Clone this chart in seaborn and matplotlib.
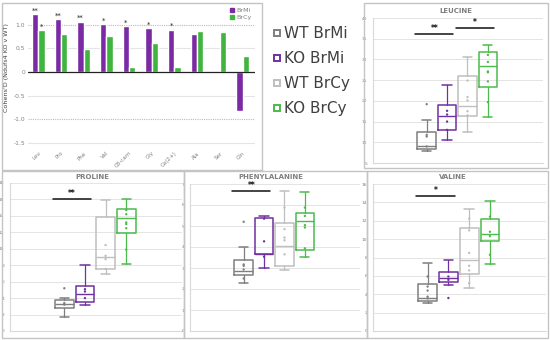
import numpy as np
import pandas as pd
import matplotlib
matplotlib.use("Agg")
import matplotlib.pyplot as plt
import seaborn as sns
from matplotlib.lines import Line2D
from matplotlib.patches import Rectangle

# ---------------- data ----------------
amino = ['Leu', 'Pro', 'Phe', 'Val', 'C8-carn', 'Gly', 'Ca(2+)', 'Ala', 'Ser', 'Gln']
cohen_brmi = [1.23, 1.12, 1.07, 1.02, 0.97, 0.93, 0.90, 0.80, 0.0, -0.83]
cohen_brcy = [0.89, 0.80, 0.49, 0.77, 0.11, 0.62, 0.10, 0.87, 0.85, 0.34]
stars_brmi = ['**', '**', '**', '*', '*', '*', '*', '', '', '']
stars_brcy = ['*', '', '', '', '', '', '', '', '', '']
series = ['BrMi', 'BrCy']

groups = ['WT BrMi', 'KO BrMi', 'WT BrCy', 'KO BrCy']

# box stats per group: [whisker low, q1, median, q3, whisker high]
leu_box = [[7.8, 8.4, 9.2, 12.6, 15.3], [10.5, 12.9, 16.3, 19.1, 23.9],
           [12.6, 16.3, 18.7, 26.1, 30.7], [16.1, 23.3, 28.3, 31.8, 33.4]]
leu_pts = [[19.2, 11.8, 11.4, 9.0], [17.6, 16.7, 15.0, 13.0],
           [24.9, 20.9, 20.1, 17.5, 16.5], [31.1, 29.4, 27.1, 26.9, 24.7, 19.7]]
leu_sig = [(0, 1, 36.1, '**'), (2, 3, 37.6, '*')]
leu_ticks = [5, 10, 15, 20, 25, 30, 35, 40]

pro_box = [[1.75, 2.76, 3.33, 3.74, 4.07], [3.17, 3.54, 4.47, 5.53, 8.0],
           [6.9, 7.52, 8.94, 13.86, 15.9], [8.13, 11.87, 13.7, 14.84, 16.06]]
pro_pts = [[5.2, 3.2, 3.4], [5.08, 4.8, 4.0], [10.45, 9.15, 8.74, 7.56],
           [14.7, 14.2, 13.2, 13.0, 12.5, 9.9]]
pro_sig = [(0, 1, 16.06, '**')]
pro_ticks = [0, 2, 4, 6, 8, 10, 12, 14, 16, 18]

phe_box = [[2.3, 2.66, 2.85, 3.37, 4.0], [3.0, 3.65, 3.68, 5.37, 5.5],
           [2.9, 3.09, 4.05, 5.12, 6.65], [3.52, 3.86, 5.25, 5.61, 6.63]]
phe_pts = [[5.2, 3.17, 3.1, 2.93, 2.5], [5.35, 4.27, 3.54], [5.88, 4.85, 4.45, 4.32, 3.65],
           [5.88, 5.48, 5.04, 4.93, 3.94]]
phe_sig = [(0, 1, 6.65, '**')]
phe_ticks = [0, 1, 2, 3, 4, 5, 6, 7]

val_box = [[3.0, 3.26, 3.63, 5.09, 7.4], [4.98, 5.31, 5.75, 6.41, 7.77],
           [4.65, 6.19, 7.77, 11.25, 13.33], [7.29, 9.82, 10.59, 12.16, 14.1]]
val_pts = [[5.93, 4.84, 4.4, 3.74, 3.55], [5.93, 5.57, 3.59], [12.23, 10.95, 8.5, 7.1, 6.6, 5.2],
           [12.45, 10.8, 10.33, 8.3]]
val_sig = [(0, 1, 14.65, '*')]
val_ticks = [0, 2, 4, 6, 8, 10, 12, 14, 16]

# ---------------- style ----------------
W, H = 550, 340
PURPLE = '#7a2aa2'
GREEN = '#3fb43f'
box_colors = ['#7f7f7f', '#7030a0', '#bfbfbf', '#4cbb4c']
bar_colors = [PURPLE, GREEN]
TXT = '#808080'
GRID = '#e4e4e4'
BORDER = '#c4c4c4'

sns.set_theme(style='white')
plt.rcParams['font.family'] = ['DejaVu Sans']

fig = plt.figure(figsize=(W / 100, H / 100), dpi=100)


def px(l, t, r, b):
    return [l / W, 1 - b / H, (r - l) / W, (b - t) / H]


# panel borders
for (l, t, r, b) in [(2, 3, 262, 170), (364, 3, 548, 168),
                     (2, 171, 184, 338), (184, 171, 367, 338), (367, 171, 548, 338)]:
    fig.patches.append(Rectangle((l / W, 1 - b / H), (r - l) / W, (b - t) / H,
                                 transform=fig.transFigure, fill=False,
                                 edgecolor=BORDER, linewidth=1.0))

# ---------------- Cohen's D bar chart ----------------
ax = fig.add_axes(px(28, 6, 255, 145))
df = pd.DataFrame({
    'aa': amino * 2,
    'd': cohen_brmi + cohen_brcy,
    'series': [series[0]] * len(amino) + [series[1]] * len(amino),
})
sns.barplot(data=df, x='aa', y='d', hue='series', order=amino, hue_order=series,
            palette=bar_colors, width=0.56, errorbar=None, ax=ax, legend=False,
            saturation=1, zorder=3)
ax.set_xlim(-0.45, len(amino) - 0.45)
ax.set_ylim(-1.55, 1.4)
ax.set_yticks([-1.5, -1.0, -0.5, 0, 0.5, 1.0])
ax.set_yticklabels(['-1.5', '-1.0', '-0.5', '0', '0.5', '1.0'], fontsize=4.3, color=TXT)
for y in [-1.5, -0.5, 0.5]:
    ax.axhline(y, color=GRID, lw=0.8, zorder=1)
for y in [-1.0, 1.0]:
    ax.axhline(y, color='#f2a3a3', lw=0.8, ls=(0, (1, 1)), zorder=1)
ax.axhline(0, color='#222222', lw=0.9, zorder=4)
ax.set_xticks(range(len(amino)))
ax.set_xticklabels(amino, rotation=45, fontsize=4.0, color=TXT, ha='right',
                   rotation_mode='anchor')
ax.tick_params(axis='both', length=0, pad=2)
ax.tick_params(axis='x', pad=4)
for s in ax.spines.values():
    s.set_visible(False)
ax.set_xlabel('')
ax.set_ylabel("Cohens'D (Ndufs4 KO v WT)", fontsize=4.6, color='#404040')
ax.yaxis.set_label_coords(-0.085, 0.56)
for i, (v, s) in enumerate(zip(cohen_brmi, stars_brmi)):
    if s:
        ax.text(i - 0.14, v + 0.01, s, ha='center', va='bottom', fontsize=5, color='#222222')
for i, (v, s) in enumerate(zip(cohen_brcy, stars_brcy)):
    if s:
        ax.text(i + 0.14, v + 0.01, s, ha='center', va='bottom', fontsize=5, color='#222222')
leg = ax.legend(handles=[Line2D([], [], marker='s', ls='', color=c, markersize=3) for c in bar_colors],
                labels=series, loc='upper right', bbox_to_anchor=(1.01, 1.03), frameon=False,
                fontsize=4.6, handletextpad=0.1, labelspacing=0.3, handlelength=1.0,
                labelcolor=TXT)

# ---------------- centre legend ----------------
handles = [Line2D([], [], marker='s', ls='', markerfacecolor='white', markeredgecolor=c,
                  markeredgewidth=1.4, markersize=4.2) for c in box_colors]
fig.legend(handles=handles, labels=groups, loc='upper left',
           bbox_to_anchor=(273 / W, 1 - 26 / H), frameon=False, fontsize=11,
           handlelength=0.5, handletextpad=0.25, labelspacing=0.66, labelcolor='#404040',
           borderaxespad=0, borderpad=0)


# ---------------- box panels ----------------
def box_panel(rect, title, title_xy, box, pts, ticks, sig):
    a = fig.add_axes(px(*rect))
    d = pd.DataFrame([(groups[i], v) for i, g in enumerate(pts) for v in g],
                     columns=['group', 'value'])
    sns.stripplot(data=d, x='group', y='value', hue='group', order=groups, hue_order=groups,
                  palette=box_colors, jitter=False, size=1.7, ax=a, legend=False, zorder=4)
    stats = [dict(whislo=b[0], q1=b[1], med=b[2], q3=b[3], whishi=b[4], fliers=[]) for b in box]
    art = a.bxp(stats, positions=range(4), widths=0.9, showfliers=False, capwidths=0.45,
                manage_ticks=False)
    for i, c in enumerate(box_colors):
        art['boxes'][i].set(color=c, linewidth=1.1)
        art['medians'][i].set(color=c, linewidth=1.0)
        for k in (2 * i, 2 * i + 1):
            art['whiskers'][k].set(color=c, linewidth=0.9)
            art['caps'][k].set(color=c, linewidth=1.1)
    a.set_xlim(-2.63, 5.7)
    a.set_ylim(ticks[0], ticks[-1])
    a.set_yticks(ticks)
    a.set_yticklabels([str(t) for t in ticks], fontsize=3.2, color=TXT)
    a.set_xticks([])
    a.set_xlabel('')
    a.set_ylabel('')
    a.tick_params(axis='y', length=0, pad=4)
    for t in ticks[1:]:
        a.axhline(t, color=GRID, lw=0.7, zorder=0)
    for k in ('top', 'right'):
        a.spines[k].set_visible(False)
    for k in ('left', 'bottom'):
        a.spines[k].set_color('#d9d9d9')
        a.spines[k].set_linewidth(0.8)
    for (i, j, y, s) in sig:
        a.plot([i - 0.55, j + 0.3], [y, y], color='#111111', lw=1.1, zorder=5)
        a.annotate(s, ((i + j) / 2 - 0.12, y), xytext=(0, 0.8), textcoords='offset points',
                   ha='center', va='bottom', fontsize=5.5, color='#111111', fontweight='bold')
    fig.text(title_xy[0] / W, 1 - title_xy[1] / H, title, ha='center', va='center',
             fontsize=5, color=TXT, fontweight='bold')
    return a


box_panel((373, 18, 543, 163), 'LEUCINE', (456, 11), leu_box, leu_pts, leu_ticks, leu_sig)
box_panel((10, 183, 182, 331), 'PROLINE', (92, 177), pro_box, pro_pts, pro_ticks, pro_sig)
box_panel((190, 184, 360, 331), 'PHENYLALANINE', (271, 177), phe_box, phe_pts, phe_ticks, phe_sig)
box_panel((373, 184, 546, 331), 'VALINE', (453, 177), val_box, val_pts, val_ticks, val_sig)

fig.savefig('out.png', dpi=100)
